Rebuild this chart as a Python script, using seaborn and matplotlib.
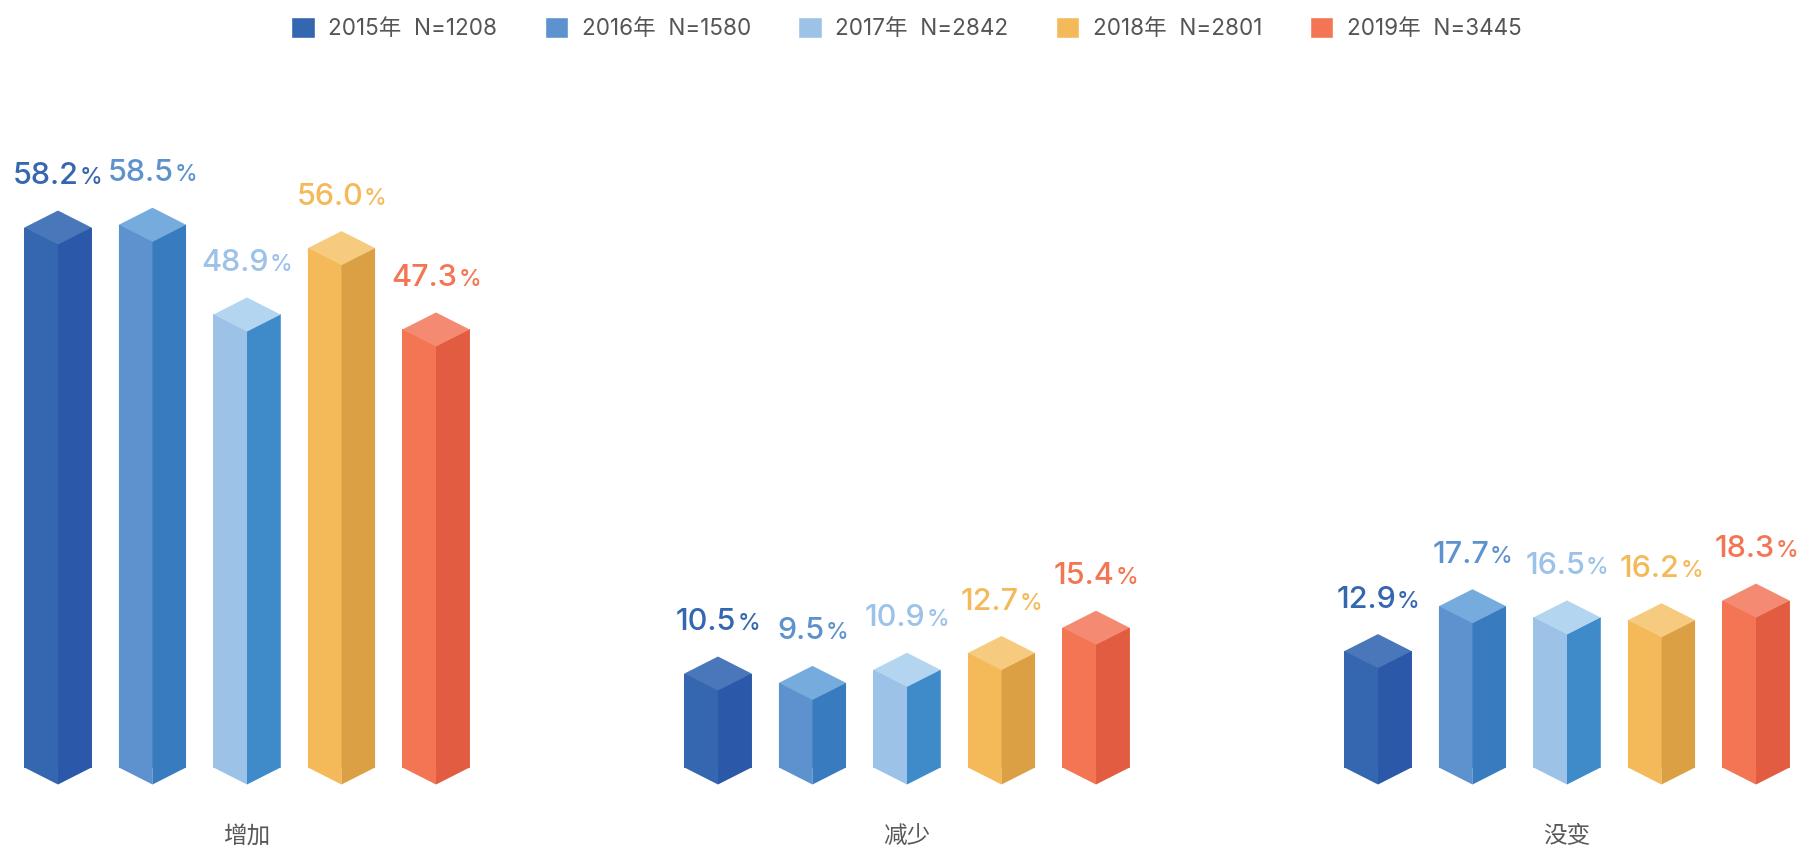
import matplotlib
matplotlib.use('Agg')
import matplotlib.pyplot as plt
import pandas as pd
import seaborn as sns

categories = ['增加', '减少', '没变']
series = ['2015年  N=1208', '2016年  N=1580', '2017年  N=2842', '2018年  N=2801', '2019年  N=3445']
v2015 = [58.2, 10.5, 12.9]
v2016 = [58.5, 9.5, 17.7]
v2017 = [48.9, 10.9, 16.5]
v2018 = [56.0, 12.7, 16.2]
v2019 = [47.3, 15.4, 18.3]

left_colors = ['#3566B0', '#5E92CE', '#9CC2E8', '#F4BA5A', '#F47553']
right_colors = ['#2B58A8', '#387BBF', '#3F8BCA', '#DCA044', '#E25C42']
top_colors = ['#4A76BA', '#75ABDD', '#B3D5F0', '#F6CB80', '#F48A72']

sns.set_theme(style='white')
plt.rcParams['font.family'] = ['Inter', 'Noto Sans CJK SC', 'DejaVu Sans']

rows = []
for name, vals in zip(series, [v2015, v2016, v2017, v2018, v2019]):
    for c, v in zip(categories, vals):
        rows.append({'category': c, 'series': name, 'value': v})
df = pd.DataFrame(rows)

W, H = 1802, 851
PX_PER_UNIT = 9.35  # pixels per percent
BASE_VALUE = 0.45   # the columns start slightly above zero in the reference
BASE_PX = 767.5     # where the side edges of the bars end
AX_BOTTOM_PX = 800
CAT_PX = 660        # distance between groups
FIRST_PX = 247      # centre of first group
DEPTH = 17 / PX_PER_UNIT

fig = plt.figure(figsize=(W / 100, H / 100), dpi=100)
ax = fig.add_axes([0, 1 - AX_BOTTOM_PX / H, 1, AX_BOTTOM_PX / H])

sns.barplot(data=df, x='category', y='value', hue='series', hue_order=series,
            order=categories, palette=left_colors, width=0.716, gap=0.29,
            saturation=1, ax=ax, errorbar=None)

ax.set_xlabel('')
ax.set_ylabel('')
ax.set_yticks([])
ax.tick_params(axis='x', length=0, pad=19, labelsize=17, labelcolor='#595959')
sns.despine(ax=ax, left=True, bottom=True)

sns.move_legend(ax, 'upper center', bbox_to_anchor=(0.503, 1.004), ncol=5, title=None,
                frameon=False, fontsize=16.2, handlelength=1.05, handleheight=1.05,
                handletextpad=0.6, columnspacing=2.1, labelcolor='#555555')

# turn each flat bar into an isometric column
labels = []
for i, container in enumerate(ax.containers):
    for bar, v in zip(container, [v2015, v2016, v2017, v2018, v2019][i]):
        x0 = bar.get_x()
        x1 = x0 + bar.get_width()
        xc = (x0 + x1) / 2
        h = bar.get_height()
        b = BASE_VALUE
        bar.set_y(b)
        bar.set_height(h - b)
        bar.set_linewidth(0)
        ax.fill([x0, xc, xc, x0], [b, b - DEPTH, h - DEPTH, h], color=left_colors[i], lw=0)
        ax.fill([xc, x1, x1, xc], [b - DEPTH, b, h, h - DEPTH], color=right_colors[i], lw=0)
        ax.fill([x0, xc, x1, xc], [h, h + DEPTH, h, h - DEPTH], color=top_colors[i], lw=0)
        labels.append((xc, h + DEPTH, v, left_colors[i]))

ax.set_xlim(-FIRST_PX / CAT_PX, (W - FIRST_PX) / CAT_PX)
ax.set_ylim(BASE_VALUE - (AX_BOTTOM_PX - BASE_PX) / PX_PER_UNIT, BASE_VALUE + BASE_PX / PX_PER_UNIT)

# number and a smaller percent sign, centred together above the column
fig.canvas.draw()
r = fig.canvas.get_renderer()
for xc, top, v, col in labels:
    t1 = ax.annotate(f'{v:.1f}', (xc, top), xytext=(0, 19), textcoords='offset points',
                     ha='left', va='baseline', fontsize=22, color=col, fontweight='medium')
    t2 = ax.annotate('%', (xc, top), xytext=(0, 19), textcoords='offset points',
                     ha='left', va='baseline', fontsize=16.5, color=col, fontweight='medium')
    w1 = t1.get_window_extent(r).width
    w2 = t2.get_window_extent(r).width
    start = -(w1 + w2 + 1) / 2 * 72 / fig.dpi
    t1.set_position((start, 19))
    t2.set_position((start + (w1 + 1) * 72 / fig.dpi, 19))

fig.savefig('out.png', dpi=100)
